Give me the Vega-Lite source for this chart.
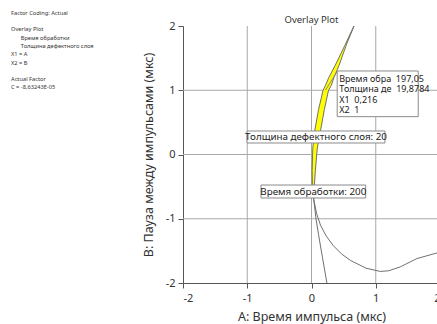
{
  "$schema": "https://vega.github.io/schema/vega-lite/v6.json",
  "width": 257,
  "height": 257,
  "autosize": {"type": "none"},
  "padding": {"left": 183, "top": 26, "right": 0, "bottom": 41},
  "background": "white",
  "config": {
    "font": "Noto Sans",
    "view": {"stroke": null},
    "axis": {
      "grid": false,
      "domainColor": "#555555",
      "tickColor": "#555555",
      "tickSize": 5,
      "labelFontSize": 11,
      "labelColor": "#333333",
      "titleFontSize": 12.5,
      "titleFontWeight": "normal",
      "titleColor": "#333333"
    }
  },
  "datasets": {
    "gridvals": [
      {"v": -1, "lo": -2, "hi": 2},
      {"v": 0, "lo": -2, "hi": 2},
      {"v": 1, "lo": -2, "hi": 2}
    ],
    "band": [
      {"y": 1.95, "xl": 0.63, "xr": 0.64},
      {"y": 1.7, "xl": 0.52, "xr": 0.54},
      {"y": 1.39, "xl": 0.37, "xr": 0.43},
      {"y": 1.2, "xl": 0.27, "xr": 0.35},
      {"y": 1.08, "xl": 0.22, "xr": 0.31},
      {"y": 1.0, "xl": 0.18, "xr": 0.265},
      {"y": 0.7, "xl": 0.11, "xr": 0.2},
      {"y": 0.37, "xl": 0.05, "xr": 0.14},
      {"y": 0.1, "xl": 0.02, "xr": 0.09},
      {"y": -0.25, "xl": 0.01, "xr": 0.06},
      {"y": -0.56, "xl": 0.015, "xr": 0.04},
      {"y": -0.7, "xl": 0.035, "xr": 0.035}
    ],
    "curves": [
      {"c": "c1", "i": 1, "x": 0.67, "y": 2.02},
      {"c": "c1", "i": 2, "x": 0.52, "y": 1.7},
      {"c": "c1", "i": 3, "x": 0.37, "y": 1.39},
      {"c": "c1", "i": 4, "x": 0.27, "y": 1.2},
      {"c": "c1", "i": 5, "x": 0.22, "y": 1.08},
      {"c": "c1", "i": 6, "x": 0.18, "y": 1.0},
      {"c": "c1", "i": 7, "x": 0.11, "y": 0.7},
      {"c": "c1", "i": 8, "x": 0.05, "y": 0.37},
      {"c": "c1", "i": 9, "x": 0.02, "y": 0.1},
      {"c": "c1", "i": 10, "x": 0.01, "y": -0.25},
      {"c": "c1", "i": 11, "x": 0.015, "y": -0.56},
      {"c": "c1", "i": 12, "x": 0.035, "y": -0.7},
      {"c": "c1", "i": 13, "x": 0.08, "y": -0.92},
      {"c": "c1", "i": 14, "x": 0.14, "y": -1.1},
      {"c": "c1", "i": 15, "x": 0.23, "y": -1.27},
      {"c": "c1", "i": 16, "x": 0.34, "y": -1.42},
      {"c": "c1", "i": 17, "x": 0.47, "y": -1.55},
      {"c": "c1", "i": 18, "x": 0.61, "y": -1.65},
      {"c": "c1", "i": 19, "x": 0.85, "y": -1.77},
      {"c": "c1", "i": 20, "x": 1.07, "y": -1.82},
      {"c": "c1", "i": 21, "x": 1.2, "y": -1.81},
      {"c": "c1", "i": 22, "x": 1.38, "y": -1.75},
      {"c": "c1", "i": 23, "x": 1.64, "y": -1.62},
      {"c": "c1", "i": 24, "x": 1.96, "y": -1.53},
      {"c": "c2", "i": 1, "x": 0.67, "y": 2.02},
      {"c": "c2", "i": 2, "x": 0.54, "y": 1.7},
      {"c": "c2", "i": 3, "x": 0.43, "y": 1.39},
      {"c": "c2", "i": 4, "x": 0.35, "y": 1.2},
      {"c": "c2", "i": 5, "x": 0.31, "y": 1.08},
      {"c": "c2", "i": 6, "x": 0.265, "y": 1.0},
      {"c": "c2", "i": 7, "x": 0.2, "y": 0.7},
      {"c": "c2", "i": 8, "x": 0.14, "y": 0.37},
      {"c": "c2", "i": 9, "x": 0.09, "y": 0.1},
      {"c": "c2", "i": 10, "x": 0.06, "y": -0.25},
      {"c": "c2", "i": 11, "x": 0.04, "y": -0.56},
      {"c": "c2", "i": 12, "x": 0.035, "y": -0.7},
      {"c": "c2", "i": 13, "x": 0.07, "y": -1.0},
      {"c": "c2", "i": 14, "x": 0.11, "y": -1.25},
      {"c": "c2", "i": 15, "x": 0.17, "y": -1.6},
      {"c": "c2", "i": 16, "x": 0.24, "y": -2.0}
    ],
    "boxes": [
      {"x1": -1.004, "x2": 1.143, "y1": 0.366, "y2": 0.179},
      {"x1": -0.786, "x2": 0.843, "y1": -0.475, "y2": -0.677},
      {"x1": 0.40, "x2": 1.661, "y1": 1.30, "y2": 0.589}
    ],
    "labels": [
      {"x": 0.07, "y": 0.272, "t": "Толщина дефектного слоя: 20"},
      {"x": 0.028, "y": -0.576, "t": "Время обработки: 200"}
    ],
    "tip": [
      {"x": 0.432, "y": 1.176, "t": "Время обра\u00a0\u00a0197,05"},
      {"x": 0.432, "y": 1.012, "t": "Толщина де\u00a0\u00a019,8784"},
      {"x": 0.432, "y": 0.852, "t": "X1\u00a0\u00a00,216"},
      {"x": 0.432, "y": 0.693, "t": "X2\u00a0\u00a01"}
    ],
    "pointer": [
      {"x": 0.397, "y": 1.285, "xe": 0.216, "ye": 1.0}
    ],
    "heading": [
      {"x": 0.0, "y": 2.093, "t": "Overlay Plot"}
    ],
    "side": [
      {"x": -4.677, "y": 2.198, "t": "Factor Coding: Actual", "w": "normal"},
      {"x": -4.677, "y": 1.953, "t": "Overlay Plot", "w": "bold"},
      {"x": -4.526, "y": 1.818, "t": "Время обработки", "w": "normal"},
      {"x": -4.526, "y": 1.689, "t": "Толщина дефектного слоя", "w": "normal"},
      {"x": -4.677, "y": 1.560, "t": "X1 = A", "w": "normal"},
      {"x": -4.677, "y": 1.429, "t": "X2 = B", "w": "normal"},
      {"x": -4.677, "y": 1.175, "t": "Actual Factor", "w": "bold"},
      {"x": -4.677, "y": 1.046, "t": "C = -8,63243E-05", "w": "normal"}
    ]
  },
  "layer": [
    {
      "data": {"name": "gridvals"},
      "mark": {"type": "rule", "color": "#a8a8a8", "strokeWidth": 1},
      "encoding": {
        "x": {"field": "v", "type": "quantitative", "scale": {"domain": [-2, 2], "nice": false, "zero": false},
          "axis": {"values": [-2, -1, 0, 1, 2], "labelExpr": "datum.value + ''", "title": "A: Время импульса (мкс)", "labelPadding": 4, "titlePadding": 7}},
        "y": {"field": "lo", "type": "quantitative", "scale": {"domain": [-2, 2], "nice": false, "zero": false},
          "axis": {"values": [-2, -1, 0, 1, 2], "labelExpr": "datum.value + ''", "title": "B: Пауза между импульсами (мкс)", "labelPadding": 3, "titlePadding": 10}},
        "y2": {"field": "hi"}
      }
    },
    {
      "data": {"name": "gridvals"},
      "mark": {"type": "rule", "color": "#a8a8a8", "strokeWidth": 1},
      "encoding": {
        "y": {"field": "v", "type": "quantitative"},
        "x": {"field": "lo", "type": "quantitative"},
        "x2": {"field": "hi"}
      }
    },
    {
      "data": {"name": "band"},
      "mark": {"type": "area", "orient": "horizontal", "color": "#ffff00", "clip": true},
      "encoding": {
        "y": {"field": "y", "type": "quantitative"},
        "x": {"field": "xl", "type": "quantitative"},
        "x2": {"field": "xr"}
      }
    },
    {
      "data": {"name": "curves"},
      "mark": {"type": "line", "color": "#707070", "strokeWidth": 1, "clip": true},
      "encoding": {
        "x": {"field": "x", "type": "quantitative"},
        "y": {"field": "y", "type": "quantitative"},
        "detail": {"field": "c"},
        "order": {"field": "i", "type": "quantitative"}
      }
    },
    {
      "data": {"name": "pointer"},
      "mark": {"type": "rule", "color": "#888888", "strokeWidth": 1},
      "encoding": {
        "x": {"field": "x", "type": "quantitative"},
        "y": {"field": "y", "type": "quantitative"},
        "x2": {"field": "xe"},
        "y2": {"field": "ye"}
      }
    },
    {
      "data": {"name": "boxes"},
      "mark": {"type": "rect", "fill": "white", "stroke": "#8a8a8a", "strokeWidth": 1},
      "encoding": {
        "x": {"field": "x1", "type": "quantitative"},
        "x2": {"field": "x2"},
        "y": {"field": "y1", "type": "quantitative"},
        "y2": {"field": "y2"}
      }
    },
    {
      "data": {"name": "labels"},
      "mark": {"type": "text", "fontSize": 9.8, "color": "#222222", "align": "center", "baseline": "middle"},
      "encoding": {
        "x": {"field": "x", "type": "quantitative"},
        "y": {"field": "y", "type": "quantitative"},
        "text": {"field": "t"}
      }
    },
    {
      "data": {"name": "tip"},
      "mark": {"type": "text", "fontSize": 9, "color": "#222222", "align": "left", "baseline": "middle"},
      "encoding": {
        "x": {"field": "x", "type": "quantitative"},
        "y": {"field": "y", "type": "quantitative"},
        "text": {"field": "t"}
      }
    },
    {
      "data": {"name": "heading"},
      "mark": {"type": "text", "fontSize": 9.5, "color": "#333333", "align": "center", "baseline": "middle"},
      "encoding": {
        "x": {"field": "x", "type": "quantitative"},
        "y": {"field": "y", "type": "quantitative"},
        "text": {"field": "t"}
      }
    },
    {
      "data": {"name": "side"},
      "mark": {"type": "text", "fontSize": 5.7, "color": "#333333", "align": "left", "baseline": "middle"},
      "encoding": {
        "x": {"field": "x", "type": "quantitative"},
        "y": {"field": "y", "type": "quantitative"},
        "text": {"field": "t"},
        "fontWeight": {"field": "w", "type": "nominal", "scale": null}
      }
    }
  ]
}
